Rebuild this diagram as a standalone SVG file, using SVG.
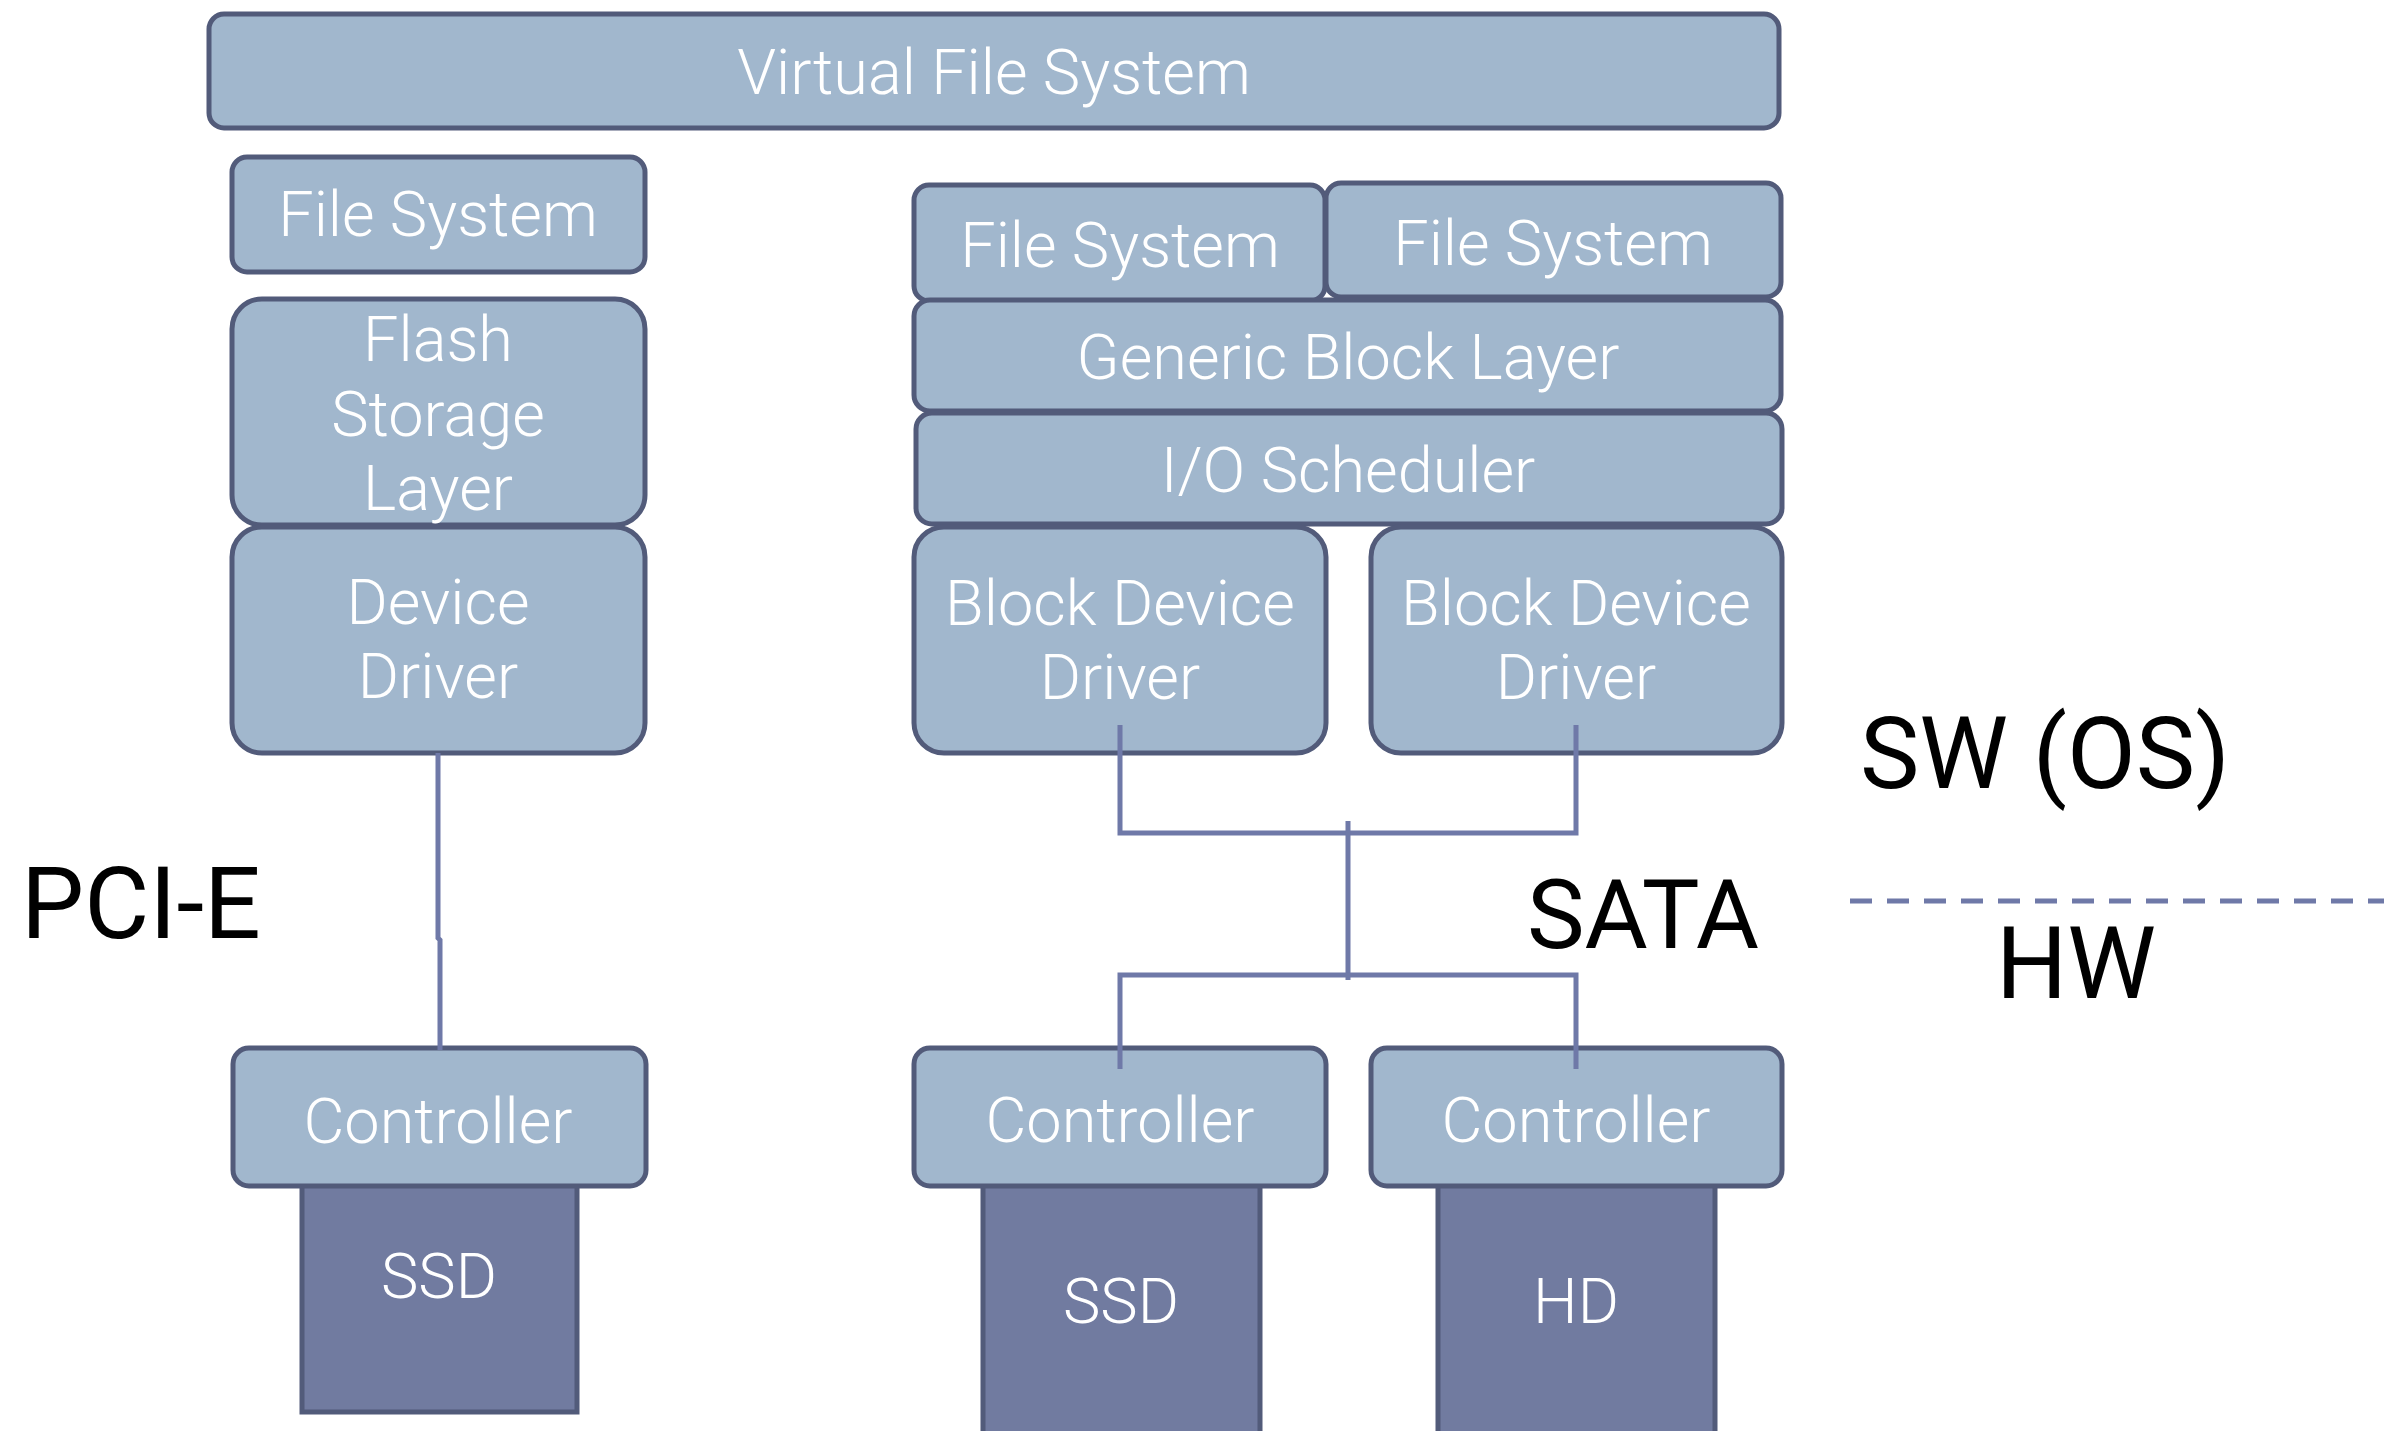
<svg xmlns="http://www.w3.org/2000/svg" width="2384" height="1431" viewBox="0 0 2384 1431">
  <style>
    .box { fill: #a1b7cd; stroke: #525b7a; stroke-width: 5; }
    .dev { fill: #717ba0; stroke: #525b7a; stroke-width: 5; }
    .lbl { font-family: Roboto, "Liberation Sans", sans-serif; font-weight: 300; font-size: 63px; fill: #ffffff; text-anchor: middle; }
    .side { font-family: Roboto, "Liberation Sans", sans-serif; font-weight: 400; font-size: 100px; fill: #000000; text-anchor: middle; }
    .wire { fill: none; stroke: #6f79a8; stroke-width: 5; }
    .split { fill: none; stroke: #6f79a8; stroke-width: 5; stroke-dasharray: 22 15; }
  </style>
  <rect width="2384" height="1431" fill="#ffffff"/>

  <!-- top layer -->
  <g id="vfs">
    <rect class="box" x="209" y="14" width="1570" height="114" rx="15"/>
    <text class="lbl" x="994" y="94">Virtual File System</text>
  </g>

  <!-- PCI-E stack -->
  <g id="fs-left">
    <rect class="box" x="232" y="157" width="413" height="115" rx="15"/>
    <text class="lbl" x="438" y="236">File System</text>
  </g>
  <g id="flash-storage-layer">
    <rect class="box" x="232" y="299" width="413" height="226" rx="30"/>
    <text class="lbl" x="438" y="361">Flash</text>
    <text class="lbl" x="438" y="436">Storage</text>
    <text class="lbl" x="438" y="510">Layer</text>
  </g>
  <g id="device-driver">
    <rect class="box" x="232" y="527" width="413" height="226" rx="30"/>
    <text class="lbl" x="438" y="624">Device</text>
    <text class="lbl" x="438" y="698">Driver</text>
  </g>
  <g id="ssd-left">
    <rect class="dev" x="302" y="1180" width="275" height="232"/>
    <text class="lbl" x="439" y="1298">SSD</text>
  </g>
  <g id="controller-left">
    <rect class="box" x="233" y="1048" width="413" height="138" rx="16"/>
    <text class="lbl" x="438" y="1143">Controller</text>
  </g>

  <!-- SATA stack -->
  <g id="fs-mid">
    <rect class="box" x="914" y="185" width="411" height="116" rx="15"/>
    <text class="lbl" x="1120" y="267">File System</text>
  </g>
  <g id="fs-right">
    <rect class="box" x="1326" y="183" width="455" height="114" rx="15"/>
    <text class="lbl" x="1553" y="265">File System</text>
  </g>
  <g id="generic-block-layer">
    <rect class="box" x="914" y="300" width="867" height="111" rx="16"/>
    <text class="lbl" x="1348" y="379">Generic Block Layer</text>
  </g>
  <g id="io-scheduler">
    <rect class="box" x="916" y="413" width="866" height="111" rx="16"/>
    <text class="lbl" x="1348" y="492">I/O Scheduler</text>
  </g>
  <g id="bdd-1">
    <rect class="box" x="914" y="527" width="412" height="226" rx="30"/>
    <text class="lbl" x="1120" y="625">Block Device</text>
    <text class="lbl" x="1120" y="699">Driver</text>
  </g>
  <g id="bdd-2">
    <rect class="box" x="1371" y="527" width="411" height="226" rx="30"/>
    <text class="lbl" x="1576" y="625">Block Device</text>
    <text class="lbl" x="1576" y="699">Driver</text>
  </g>
  <g id="ssd-mid">
    <rect class="dev" x="983" y="1180" width="277" height="270"/>
    <text class="lbl" x="1121" y="1323">SSD</text>
  </g>
  <g id="hd">
    <rect class="dev" x="1438" y="1180" width="277" height="270"/>
    <text class="lbl" x="1576" y="1323">HD</text>
  </g>
  <g id="controller-mid">
    <rect class="box" x="914" y="1048" width="412" height="138" rx="16"/>
    <text class="lbl" x="1120" y="1142">Controller</text>
  </g>
  <g id="controller-right">
    <rect class="box" x="1371" y="1048" width="411" height="138" rx="16"/>
    <text class="lbl" x="1576" y="1142">Controller</text>
  </g>

  <!-- buses -->
  <g id="connectors">
    <path class="wire" d="M438,753 V938 L440,940 V1050"/>
    <path class="wire" d="M1120,725 V833 H1576 V725"/>
    <path class="wire" d="M1348,821 V980"/>
    <path class="wire" d="M1120,1069 V975 H1576 V1069"/>
  </g>

  <!-- bus and layer labels -->
  <g id="labels">
    <text class="side" x="141" y="938">PCI-E</text>
    <text class="side" x="1643" y="948" style="font-size:97px">SATA</text>
    <text class="side" x="2045" y="788">SW (OS)</text>
    <text class="side" x="2076" y="998">HW</text>
    <line class="split" x1="1850" y1="901" x2="2384" y2="901"/>
  </g>
</svg>
